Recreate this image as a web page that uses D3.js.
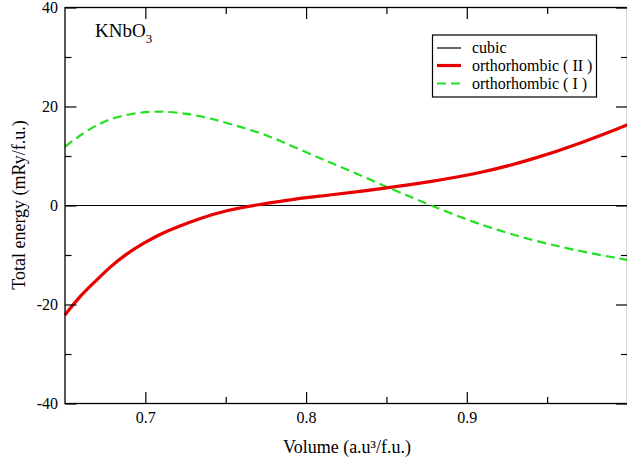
<!DOCTYPE html>
<html>
<head>
<meta charset="utf-8" />
<title>KNbO3 total energy</title>
<script src="https://d3js.org/d3.v7.min.js"></script>
<style>
  body { margin: 0; background: #fff; }
  svg text { font-family: "Liberation Serif", "Times New Roman", serif; fill: #000; }
</style>
</head>
<body>
<div id="chart"></div>
<script>
// volume (a.u^3/f.u.) and total energy (mRy/f.u.)
var cubicVol = [0.65, 1.0];
var cubicE = [0, 0];

var orthoIIVol = [0.650, 0.659, 0.668, 0.678, 0.688, 0.699, 0.709, 0.720, 0.733, 0.751, 0.771, 0.792, 0.815, 0.852, 0.877, 0.908, 0.940, 0.971, 1.000];
var orthoIIE   = [-22.1, -18.4, -15.6, -12.4, -9.8, -7.6, -5.8, -4.3, -2.7, -0.9, 0.2, 1.3, 2.1, 3.6, 4.8, 6.5, 9.2, 12.6, 16.3];

var orthoIVol = [0.650, 0.664, 0.678, 0.693, 0.709, 0.726, 0.742, 0.759, 0.776, 0.792, 0.809, 0.820, 0.836, 0.852, 0.877, 0.908, 0.940, 0.971, 1.000];
var orthoIE   = [11.9, 15.3, 17.6, 18.7, 19.1, 18.6, 17.5, 15.9, 14.2, 11.9, 9.5, 8.0, 5.8, 3.5, 0.1, -3.9, -7.0, -9.3, -11.0];

var xTicks = [0.7, 0.8, 0.9];
var xMinor = [0.75, 0.85, 0.95];
var yTicks = [-40, -20, 0, 20, 40];
var yMinor = [-30, -10, 10, 30];

var seriesNames = ["cubic", "orthorhombic ( II )", "orthorhombic ( I )"];

var W = 627, H = 462;
var pLeft = 65, pRight = 627.5, pTop = 7.5, pBottom = 403.5;
var serif = "'Liberation Serif', 'Times New Roman', serif";

var svg = d3.select("#chart").append("svg")
  .attr("width", W).attr("height", H)
  .style("font-family", serif);

var x = d3.scaleLinear().domain([0.65, 1.0]).range([pLeft, pRight]);
var y = d3.scaleLinear().domain([-40, 40]).range([pBottom, pTop]);

function pts(vs, es) {
  return vs.map(function (v, i) { return { v: v, e: es[i] }; });
}

var line = d3.line()
  .x(function (d) { return x(d.v); })
  .y(function (d) { return y(d.e); })
  .curve(d3.curveBasis);

// curves
svg.append("path")
  .datum(pts(cubicVol, cubicE))
  .attr("fill", "none").attr("stroke", "#000").attr("stroke-width", 1.2)
  .attr("d", line);

svg.append("path")
  .datum(pts(orthoIVol, orthoIE))
  .attr("fill", "none").attr("stroke", "#22e022").attr("stroke-width", 2.2)
  .attr("stroke-dasharray", "9,5")
  .attr("d", line);

svg.append("path")
  .datum(pts(orthoIIVol, orthoIIE))
  .attr("fill", "none").attr("stroke", "#e80000").attr("stroke-width", 3.2)
  .attr("d", line);

// frame
svg.append("rect")
  .attr("x", pLeft).attr("y", pTop)
  .attr("width", pRight - pLeft).attr("height", pBottom - pTop)
  .attr("fill", "none").attr("stroke", "#000").attr("stroke-width", 1.3);

// ticks pointing inward on all four sides
var major = 11.5, minor = 6.5;
var plain = function (d) { return String(d); };
var xAxisB = d3.axisBottom(x).tickValues(xTicks).tickSize(-major).tickFormat(plain).tickPadding(8);
var xAxisBm = d3.axisBottom(x).tickValues(xMinor).tickSize(-minor).tickFormat("");
var xAxisT = d3.axisTop(x).tickValues(xTicks).tickSize(-major).tickFormat("");
var xAxisTm = d3.axisTop(x).tickValues(xMinor).tickSize(-minor).tickFormat("");
var yAxisL = d3.axisLeft(y).tickValues(yTicks).tickSize(-major).tickFormat(plain).tickPadding(7);
var yAxisLm = d3.axisLeft(y).tickValues(yMinor).tickSize(-minor).tickFormat("");
var yAxisR = d3.axisRight(y).tickValues(yTicks).tickSize(-major).tickFormat("");
var yAxisRm = d3.axisRight(y).tickValues(yMinor).tickSize(-minor).tickFormat("");

function addAxis(ax, tr) {
  var g = svg.append("g").attr("transform", tr).call(ax);
  g.attr("font-family", null).attr("font-size", null);
  g.select(".domain").remove();
  g.selectAll("line").attr("stroke", "#000").attr("stroke-width", 1.2);
  g.selectAll("text").style("font-family", serif).style("font-size", "16px").attr("fill", "#000");
  return g;
}
addAxis(xAxisB, "translate(0," + pBottom + ")");
addAxis(xAxisBm, "translate(0," + pBottom + ")");
addAxis(xAxisT, "translate(0," + pTop + ")");
addAxis(xAxisTm, "translate(0," + pTop + ")");
addAxis(yAxisL, "translate(" + pLeft + ",0)");
addAxis(yAxisLm, "translate(" + pLeft + ",0)");
addAxis(yAxisR, "translate(" + pRight + ",0)");
addAxis(yAxisRm, "translate(" + pRight + ",0)");

// axis titles
svg.append("text")
  .attr("x", 347).attr("y", 453)
  .attr("text-anchor", "middle").style("font-size", "18px")
  .text("Volume (a.u³/f.u.)");

svg.append("text")
  .attr("transform", "translate(25,205) rotate(-90)")
  .attr("text-anchor", "middle").style("font-size", "18px")
  .text("Total energy (mRy/f.u.)");

// compound label
var lab = svg.append("text").attr("x", 95).attr("y", 37).style("font-size", "19px");
lab.append("tspan").text("KNbO");
lab.append("tspan").style("font-size", "13px").attr("dy", 6).text("3");

// legend
var lg = svg.append("g");
lg.append("rect")
  .attr("x", 432.5).attr("y", 35).attr("width", 164).attr("height", 62)
  .attr("fill", "#fff").attr("stroke", "#000").attr("stroke-width", 1.2);

var legendRows = [
  { name: seriesNames[0], color: "#000", w: 1.2, dash: null, cy: 48 },
  { name: seriesNames[1], color: "#e80000", w: 3.2, dash: null, cy: 65.5 },
  { name: seriesNames[2], color: "#22e022", w: 2.2, dash: "9,5", cy: 83.5 }
];
legendRows.forEach(function (r) {
  lg.append("line")
    .attr("x1", 437).attr("x2", 461).attr("y1", r.cy).attr("y2", r.cy)
    .attr("stroke", r.color).attr("stroke-width", r.w)
    .attr("stroke-dasharray", r.dash);
  lg.append("text")
    .attr("x", 472).attr("y", r.cy + 5).style("font-size", "16px")
    .text(r.name);
});
</script>
</body>
</html>
